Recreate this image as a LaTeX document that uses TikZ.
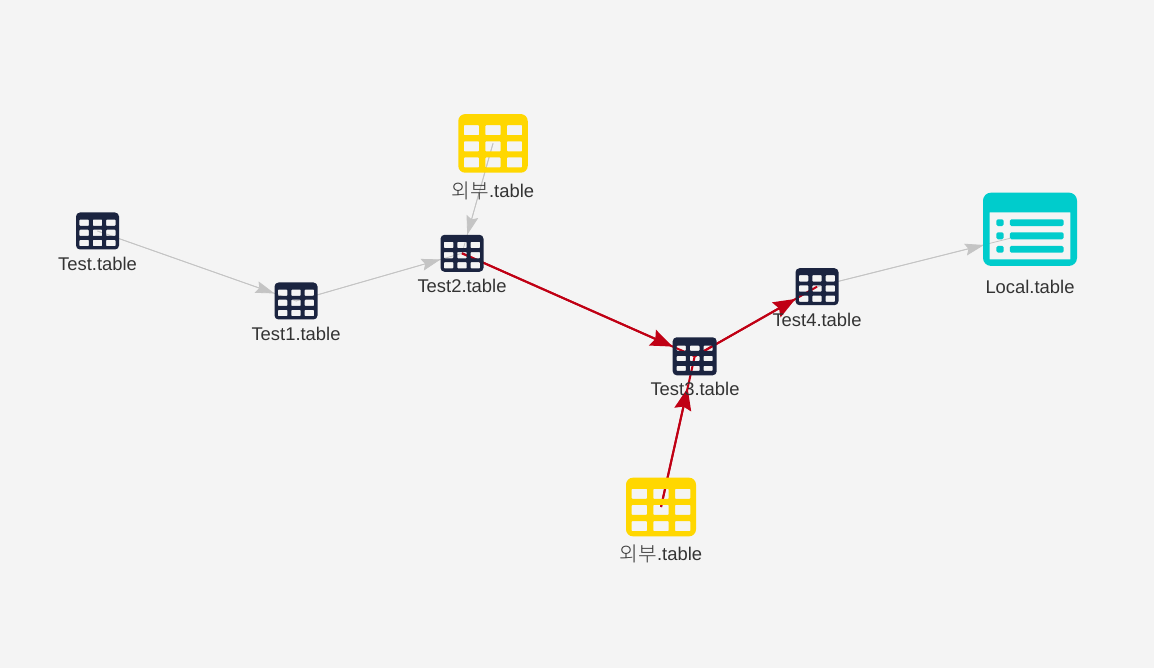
\documentclass[tikz,border=0pt]{standalone}
\usepackage{fontspec}
\setmainfont{Liberation Sans}
\newfontfamily\cjk[Scale=1.1]{Noto Sans CJK KR Light}
\usetikzlibrary{arrows.meta,backgrounds}
\definecolor{bgc}{HTML}{F4F4F4}
\definecolor{navy}{HTML}{1B2440}
\definecolor{gold}{HTML}{FFD700}
\definecolor{teal}{HTML}{00CCCC}
\definecolor{redline}{HTML}{C00014}
\definecolor{greyline}{HTML}{C4C4C4}
\definecolor{txt}{HTML}{333333}
\pgfdeclarelayer{edges}
\pgfsetlayers{background,edges,main}
\tikzset{
  box/.style={rectangle,inner sep=0pt,outer sep=0pt,draw=none},
  lbl/.style={inner sep=0pt,outer sep=0pt,text=txt,font=\fontsize{18.4}{20}\selectfont},
  greyedge/.style={draw=greyline,line width=0.8pt},
  rededge/.style={draw=redline,line width=2pt},
  greytip/.style={greyedge,-{Stealth[length=19pt,width=12pt,inset=3pt]}},
  redtip/.style={rededge,-{Stealth[length=22pt,width=17pt,inset=3pt]}},
}
\newcommand{\extlabel}{\raisebox{-1.5pt}{\cjk 외부}.table}
% name, x, y, w, h, colour, corner radius
\newcommand{\tableicon}[7]{%
  \node[box,minimum width=#4pt,minimum height=#5pt] (#1) at (#2,#3) {};
  \begin{scope}[shift={(#1.north west)},x=#4pt,y=-#5pt]
    \fill[#6,even odd rule,rounded corners=#7pt] (0,0) rectangle (1,1)
      [rounded corners=0.7pt]
      (.08,.19) rectangle (.30,.36) (.39,.19) rectangle (.61,.36) (.70,.19) rectangle (.92,.36)
      (.08,.465) rectangle (.30,.635) (.39,.465) rectangle (.61,.635) (.70,.465) rectangle (.92,.635)
      (.08,.74) rectangle (.30,.91) (.39,.74) rectangle (.61,.91) (.70,.74) rectangle (.92,.91);
  \end{scope}}
\begin{document}
\begin{tikzpicture}[x=1pt,y=-1pt]
\useasboundingbox (0,0) rectangle (1154,668);
\begin{pgfonlayer}{background}
  \fill[bgc] (0,0) rectangle (1154,668);
\end{pgfonlayer}

\tableicon{test}{97.5}{231}{43}{37}{navy}{4}
\tableicon{testa}{296}{301}{43}{37}{navy}{4}
\tableicon{testb}{462}{253.3}{43}{37}{navy}{4}
\tableicon{testd}{817}{286.7}{43}{37}{navy}{4}
\tableicon{exta}{493}{143.4}{69.5}{58.7}{gold}{7}
\tableicon{extb}{661}{507}{70}{58.7}{gold}{7}

% Test3 icon has slightly smaller cells
\node[box,minimum width=44pt,minimum height=38pt] (testc) at (694.7,356.3) {};
\begin{scope}[shift={(testc.north west)},x=44pt,y=-38pt]
  \fill[navy,even odd rule,rounded corners=4pt] (0,0) rectangle (1,1)
    [rounded corners=0.7pt]
    (.09,.22) rectangle (.30,.355) (.39,.22) rectangle (.61,.355) (.70,.22) rectangle (.91,.355)
    (.09,.49) rectangle (.30,.625) (.39,.49) rectangle (.61,.625) (.70,.49) rectangle (.91,.625)
    (.09,.75) rectangle (.30,.885) (.39,.75) rectangle (.61,.885) (.70,.75) rectangle (.91,.885);
\end{scope}

% Local table icon
\node[box,minimum width=94pt,minimum height=73.3pt] (local) at (1030,229.3) {};
\begin{scope}[shift={(local.north west)},x=94pt,y=-73.3pt]
  \fill[teal,even odd rule,rounded corners=8pt] (0,0) rectangle (1,1)
    [rounded corners=0pt] (.07,.268) rectangle (.93,.91)
    [rounded corners=1.5pt]
    (.142,.364) rectangle (.22,.455) (.142,.541) rectangle (.22,.636) (.142,.727) rectangle (.22,.818)
    (.285,.364) rectangle (.858,.455) (.285,.541) rectangle (.858,.636) (.285,.727) rectangle (.858,.818);
\end{scope}

\node[lbl] (ltest) at (97.5,264) {Test.table};
\node[lbl] (ltesta) at (296,334) {Test1.table};
\node[lbl] (ltestb) at (462,286) {Test2.table};
\node[lbl] (ltestc) at (695,389) {Test3.table};
\node[lbl] (ltestd) at (817,320) {Test4.table};
\node[lbl] (lexta) at (493,191) {\extlabel};
\node[lbl] (lextb) at (661,554) {\extlabel};
\node[lbl] (llocal) at (1030,287) {Local.table};

\coordinate (testctip) at (687.6,388);
\coordinate (localend) at (1010,238.3);
\coordinate (localtip) at (984,245);

\begin{pgfonlayer}{edges}
  \draw[greyedge] (test.center) -- (testa.center);
  \draw[greytip] (test.center) -- (testa);
  \draw[greyedge] (testa.center) -- (testb.center);
  \draw[greytip] (testa.center) -- (testb);
  \draw[greyedge] (exta.center) -- (testb.center);
  \draw[greytip] (exta.center) -- (testb);
  \draw[greyedge] (testd.center) -- (localend);
  \draw[greytip] (testd.center) -- (localtip);
  \draw[rededge] (testb.center) -- (testc.center);
  \draw[redtip] (testb.center) -- (testc);
  \draw[rededge] (testc.center) -- (testd.center);
  \draw[redtip] (testc.center) -- (testd);
  \draw[rededge] (extb.center) -- (testc.center);
  \draw[redtip] (extb.center) -- (testctip);
\end{pgfonlayer}
\end{tikzpicture}
\end{document}
